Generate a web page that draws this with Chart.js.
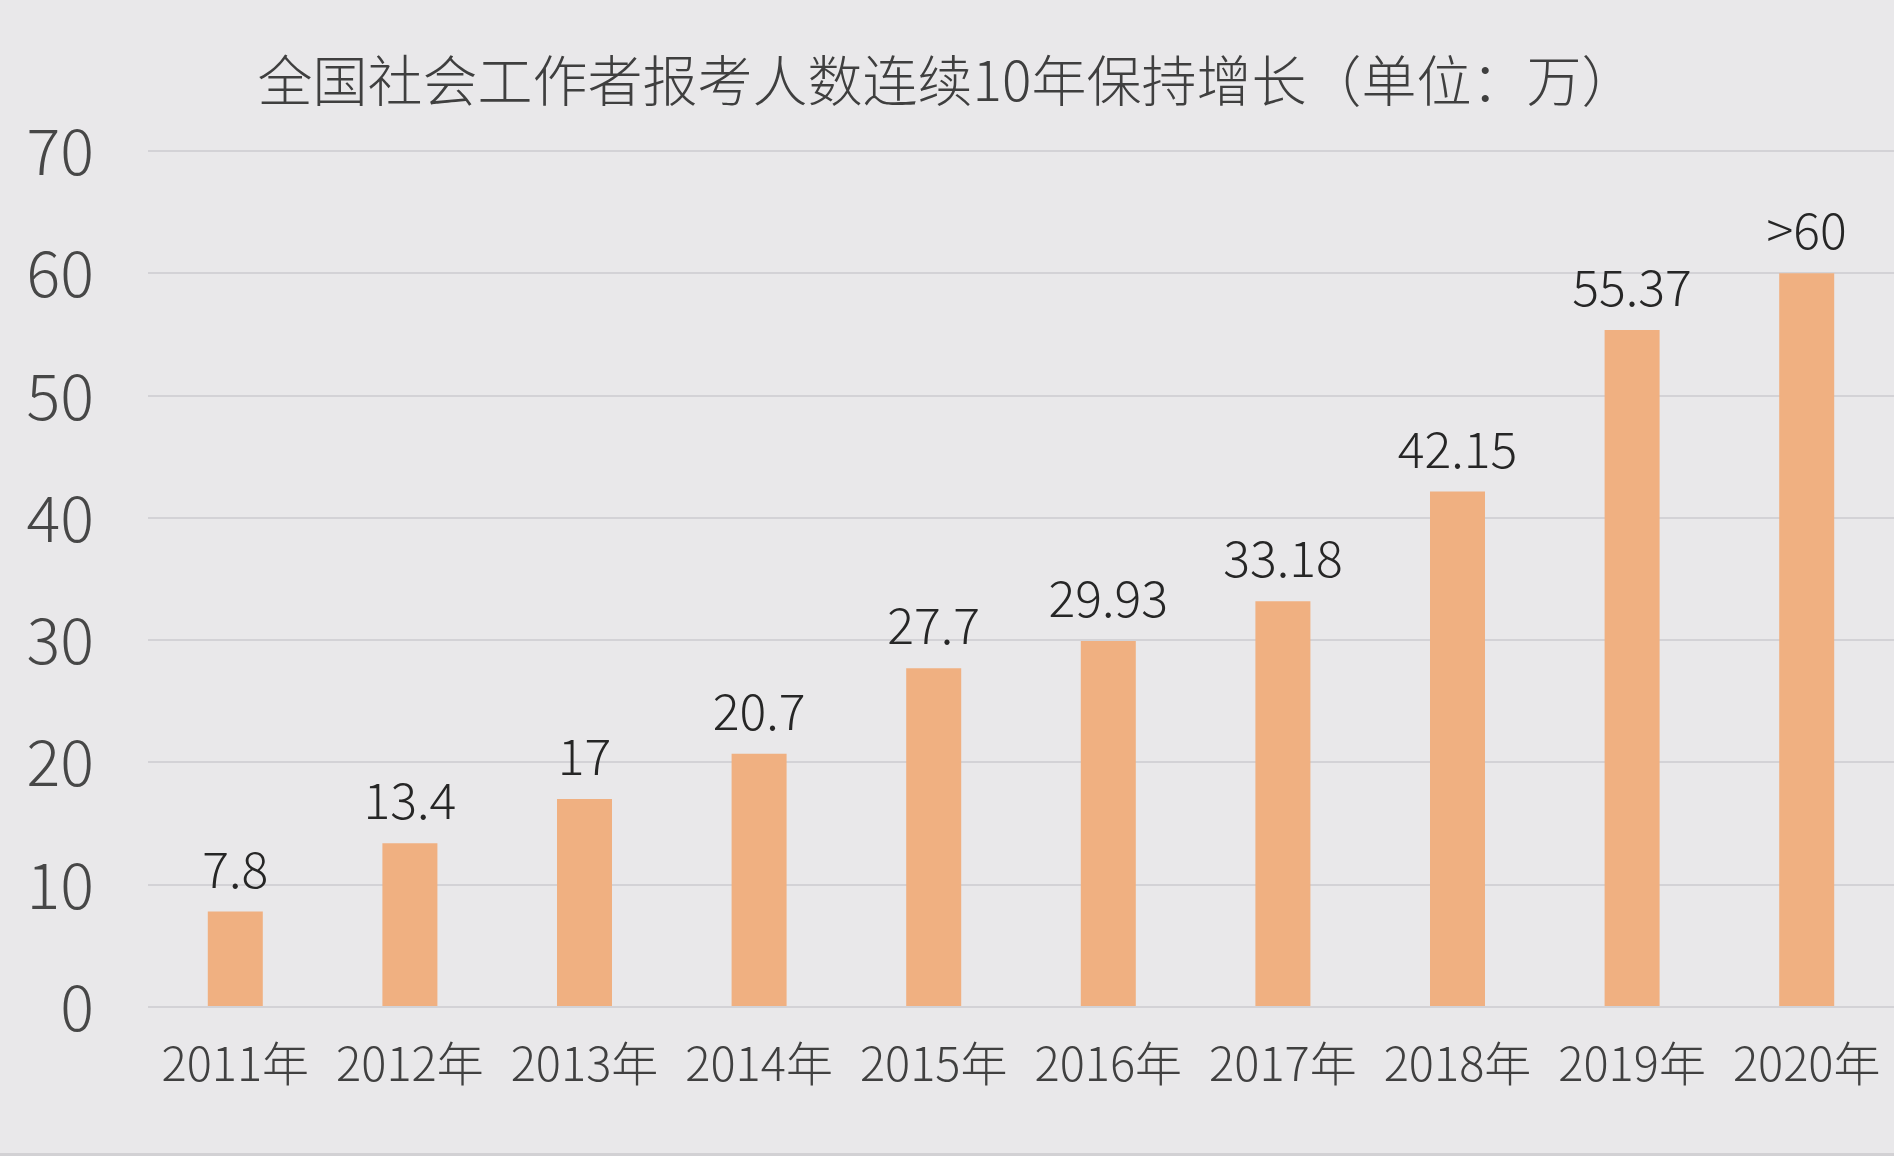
<!DOCTYPE html>
<html>
<head>
<meta charset="utf-8">
<script src="https://cdn.jsdelivr.net/npm/chart.js@4"></script>
<style>
  html, body { margin: 0; padding: 0; background: #d2d1d4; }
  #wrap { width: 1894px; height: 1153px; background: #e9e8ea; }
</style>
</head>
<body>
<div id="wrap"><canvas id="chart-1" width="1894" height="1153"></canvas></div>
<script>
const years = ["2011年", "2012年", "2013年", "2014年", "2015年", "2016年", "2017年", "2018年", "2019年", "2020年"];
const applicants = [7.8, 13.4, 17, 20.7, 27.7, 29.93, 33.18, 42.15, 55.37, 60];
const valueLabels = ["7.8", "13.4", "17", "20.7", "27.7", "29.93", "33.18", "42.15", "55.37", ">60"];
const yMax = 70;
const yStep = 10;

const font = "'Noto Sans CJK SC', 'Noto Sans', sans-serif";

// labels above the bars
const barLabels = {
  id: "barLabels",
  afterDatasetsDraw(chart) {
    const ctx = chart.ctx;
    const meta = chart.getDatasetMeta(0);
    ctx.save();
    ctx.font = "300 50px " + font;
    ctx.fillStyle = "#262626";
    ctx.textAlign = "center";
    ctx.textBaseline = "alphabetic";
    meta.data.forEach((bar, i) => {
      ctx.fillText(valueLabels[i], bar.x, bar.y - 24);
    });
    ctx.restore();
  }
};

const ctx1 = document.getElementById("chart-1").getContext("2d");
const myChart = new Chart(ctx1, {
  type: "bar",
  data: {
    labels: years,
    datasets: [
      {
        label: "报考人数",
        data: applicants,
        backgroundColor: "#f0b081",
        categoryPercentage: 0.315,
        barPercentage: 1,
      },
    ],
  },
  options: {
    responsive: false,
    animation: false,
    layout: { padding: 0 },
    plugins: {
      legend: { display: false },
      tooltip: { enabled: false },
      title: {
        display: true,
        text: "全国社会工作者报考人数连续10年保持增长（单位：万）",
        color: "#3f3f3f",
        font: { family: font, size: 55, weight: 300, lineHeight: 1.2 },
        padding: { top: 47, bottom: 38 }
      }
    },
    scales: {
      x: {
        grid: { display: false },
        border: { display: false },
        ticks: {
          color: "#404040",
          font: { family: font, size: 47, weight: 300 },
          padding: 20,
          maxRotation: 0,
          autoSkip: false
        },
        afterFit(scale) {
          scale.height = 146;
          scale.paddingLeft = 0;
          scale.paddingRight = 0;
        }
      },
      y: {
        min: 0,
        max: yMax,
        border: { display: false },
        grid: { color: "#d3d2d6", lineWidth: 2, drawTicks: false },
        ticks: {
          stepSize: yStep,
          color: "#474747",
          font: { family: font, size: 63, weight: 300 },
          padding: 54
        },
        afterFit(scale) { scale.width = 148; }
      }
    }
  },
  plugins: [barLabels]
});
</script>
</body>
</html>
